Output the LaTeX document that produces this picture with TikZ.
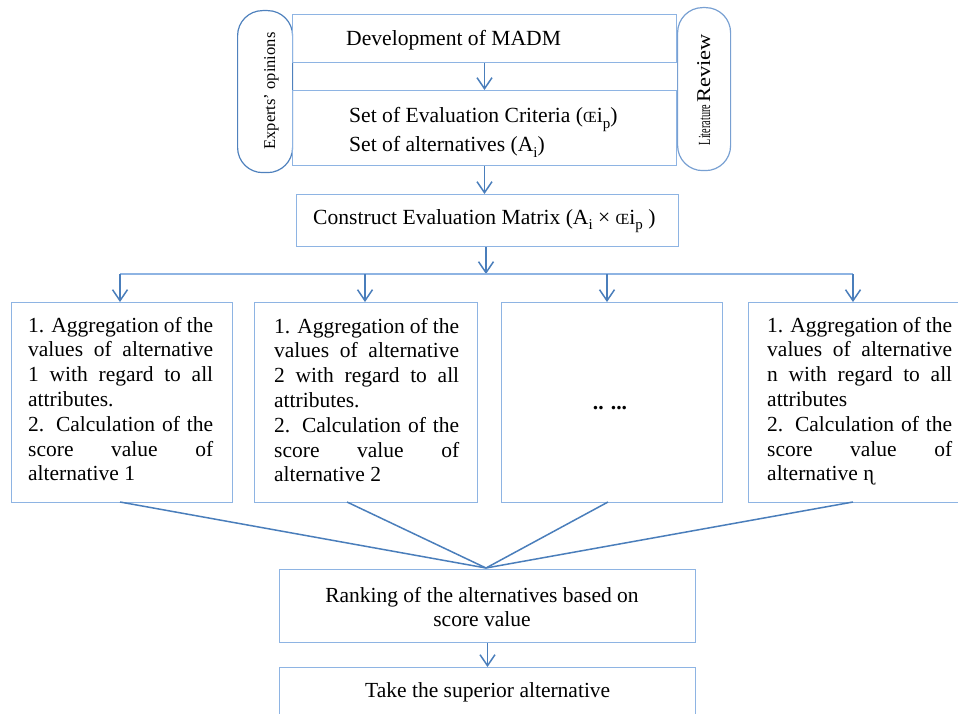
\documentclass[tikz,border=0pt]{standalone}
\usepackage{fontspec}
\setmainfont{Liberation Serif}
\usepackage{graphicx}
\usetikzlibrary{arrows.meta}
\definecolor{boxc}{RGB}{142,180,227}
\definecolor{arrc}{RGB}{74,126,187}
\definecolor{pillL}{RGB}{79,129,189}
\definecolor{pillR}{RGB}{120,160,210}
\newcommand\jl[1]{\makebox[185pt][s]{#1}}
\newcommand\lsub[1]{\raisebox{-0.25em}{\fontsize{15}{15}\selectfont #1}}
\newcommand\smOE{{\fontsize{15.5}{16}\selectfont Œ}}
\begin{document}
\begin{tikzpicture}[x=1pt,y=-1pt,
  boxn/.style={draw=boxc, line width=1pt, inner sep=0, anchor=north west, rectangle},
  pill/.style={line width=1.2pt, inner sep=0, anchor=north west, rectangle, rounded corners=25pt},
  arr/.style={draw=arrc, line width=1.5pt, -{Straight Barb[length=11pt,width=15pt]}},
  conn/.style={draw=arrc, line width=1.5pt},
  hline/.style={draw=boxc, line width=1.3pt},
  txt/.style={inner sep=0, font=\fontsize{21.6}{26}\selectfont},
  btxt/.style={inner sep=0, anchor=base west, font=\fontsize{21.5}{24.8}\selectfont}
  ]
\useasboundingbox (0,0) rectangle (958,714);
\clip (0,0) rectangle (958,714);

% pills
\node[pill, draw=pillL, minimum width=55pt, minimum height=162pt] (pl) at (237,10) {};
\node[pill, draw=pillR, minimum width=53pt, minimum height=163pt] (pr) at (677,7) {};

% boxes
\node[boxn, minimum width=384pt, minimum height=48pt] (dev) at (292,14) {};
\node[boxn, minimum width=384pt, minimum height=75pt] (set) at (292,90) {};
\node[boxn, minimum width=382pt, minimum height=52pt] (cons) at (296,194) {};
\node[boxn, minimum width=221pt, minimum height=200pt] (b1) at (11,302) {};
\node[boxn, minimum width=223pt, minimum height=200pt] (b2) at (254,302) {};
\node[boxn, minimum width=221pt, minimum height=200pt] (b3) at (501,302) {};
\node[boxn, minimum width=209.5pt, minimum height=200pt] (b4) at (748,302) {};
\node[boxn, minimum width=416pt, minimum height=73pt] (rank) at (279,569) {};
\node[boxn, minimum width=416pt, minimum height=70pt] (take) at (279,667) {};

% pill texts
\node[rotate=90, anchor=base, inner sep=0, font=\fontsize{16.5}{18}\selectfont] (texp) at (275,91) {Experts’ opinions};
\node[rotate=90, anchor=base, inner sep=0] (tlit) at (710,89.5) {\scalebox{0.6}[1]{\fontsize{17}{18}\selectfont Literature} \scalebox{1.15}[1]{\fontsize{19.5}{20}\selectfont Review}};

% texts
\node[txt, anchor=base west] (tdev) at (346,46) {Development of MADM};
\node[txt, anchor=base west] (tset1) at (349,123) {Set of Evaluation Criteria (\smOE i\lsub{p})};
\node[txt, anchor=base west] (tset2) at (349,152) {Set of alternatives (A\lsub{i})};
\node[txt, anchor=base west] (tcons) at (313,224) {Construct Evaluation Matrix (A\lsub{i} × \smOE i\lsub{p} )};

\node[btxt] (t1) at (28,332) {\parbox[t]{185pt}{\jl{1. Aggregation of the}\\\jl{values of alternative}\\\jl{1 with regard to all}\\attributes.\\\jl{2. Calculation of the}\\\jl{score value of}\\alternative 1}};
\node[btxt] (t2) at (274,333) {\parbox[t]{185pt}{\jl{1. Aggregation of the}\\\jl{values of alternative}\\\jl{2 with regard to all}\\attributes.\\\jl{2. Calculation of the}\\\jl{score value of}\\alternative 2}};
\node[btxt] (t4) at (767,332) {\parbox[t]{185pt}{\jl{1. Aggregation of the}\\\jl{values of alternative}\\\jl{n with regard to all}\\attributes\\\jl{2. Calculation of the}\\\jl{score value of}\\alternative ɳ}};
\node[txt, anchor=base, font=\bfseries\fontsize{21.6}{26}\selectfont] (t3) at (610,409) {.. ...};

\node[inner sep=0, anchor=base, font=\fontsize{21.5}{24}\selectfont] (trank) at (482,602) {\parbox[t]{400pt}{\centering Ranking of the alternatives based on\\score value}};
\node[btxt] (ttake) at (365,697) {Take the superior alternative};

% connectors
\draw[arr] (dev.south) -- (set.north);
\draw[arr] (set.south) -- (set.south |- cons.north);
\coordinate (hm) at (486,274);
\coordinate (h1) at (120,274);
\coordinate (h2) at (365,274);
\coordinate (h3) at (607,274);
\coordinate (h4) at (853,274);
\draw[arr] (hm |- cons.south) -- (hm);
\draw[hline] (h1) -- (h4);
\draw[arr] (h1) -- (h1 |- b1.north);
\draw[arr] (h2) -- (h2 |- b2.north);
\draw[arr] (h3) -- (h3 |- b3.north);
\draw[arr] (h4) -- (h4 |- b4.north);
\coordinate (s1) at (120,502);
\coordinate (s2) at (347,502);
\coordinate (s3) at (608,502);
\coordinate (s4) at (853,502);
\coordinate (cv) at (486,568);
\draw[conn] (s1) -- (cv);
\draw[conn] (s2) -- (cv);
\draw[conn] (s3) -- (cv);
\draw[conn] (s4) -- (cv);
\draw[arr] (rank.south) -- (take.north);
\end{tikzpicture}
\end{document}
